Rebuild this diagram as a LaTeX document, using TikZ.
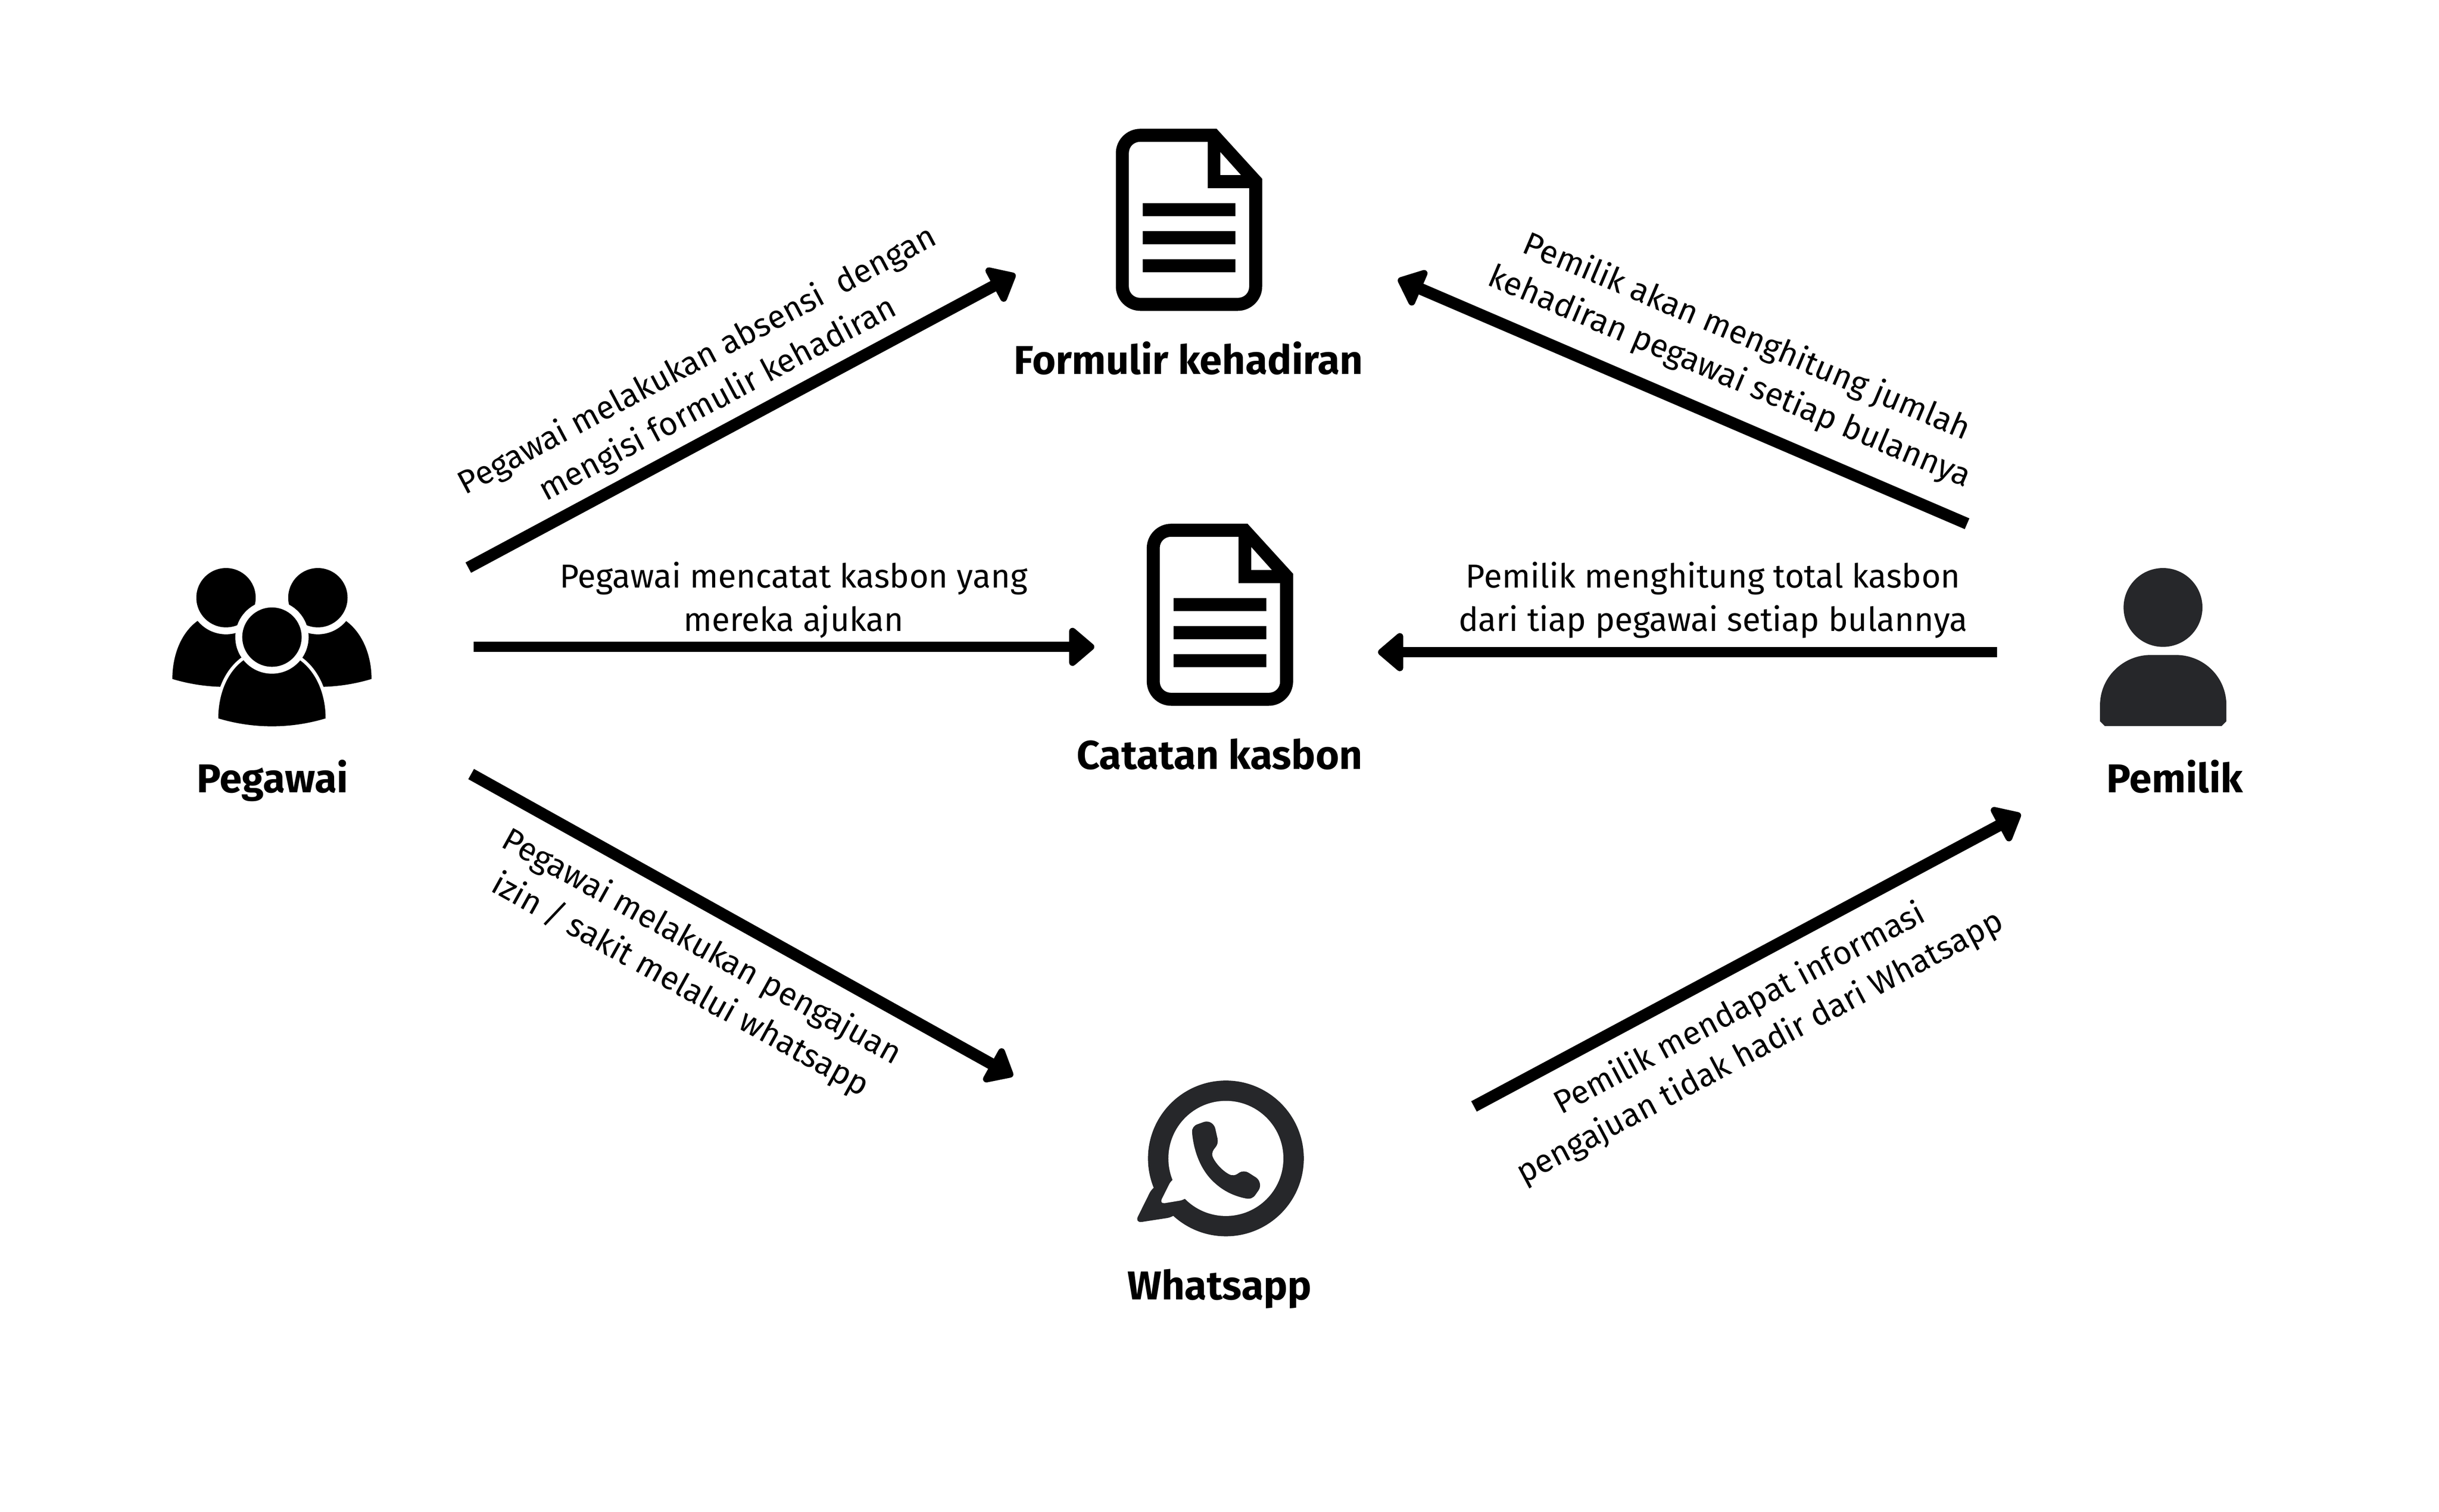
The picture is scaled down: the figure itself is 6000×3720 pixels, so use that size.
\documentclass[tikz,border=0pt]{standalone}
\usepackage{fontspec}
\setmainfont{Fira Sans}
\usetikzlibrary{arrows.meta}
\definecolor{icondark}{HTML}{26272A}
\tikzset{
  flow/.style={line width=8.2pt,line cap=butt,-{Triangle[length=19pt,width=31pt,line width=5pt,round]}},
  flowh/.style={line width=7.1pt,line cap=butt,-{Triangle[length=19pt,width=31pt,line width=5pt,round]}},
  lbl/.style={font=\fontsize{23.2}{30.4}\selectfont,align=center,inner sep=0pt,text=black},
  lblr/.style={font=\fontsize{22.7}{30.4}\selectfont,align=center,inner sep=0pt,text=black},
  title/.style={font=\fontsize{28.2}{32}\selectfont\bfseries,anchor=base,inner sep=0pt,text=black},
  docicon/.pic={
    \fill[black,even odd rule]
      (2745,377) .. controls (2745,344) and (2772,317) .. (2805,317) -- (2993,317) -- (3105,440) -- (3105,705)
      .. controls (3105,738) and (3078,765) .. (3045,765) -- (2805,765) .. controls (2772,765) and (2745,738) .. (2745,705) -- cycle
      (2777,377) .. controls (2777,361) and (2789,349) .. (2805,349) -- (2971,349) -- (2971,463) -- (3073,463) -- (3073,705)
      .. controls (3073,721) and (3061,733) .. (3045,733) -- (2805,733) .. controls (2789,733) and (2777,721) .. (2777,705) -- cycle
      (3002,374) -- (3002,431) -- (3053,431) -- cycle;
    \fill[black] (2811,500) rectangle (3039,532) (2811,569) rectangle (3039,601) (2811,638) rectangle (3039,670);
  }
}
\newcommand{\domeshape}{(537,1768) .. controls (537,1710) and (558,1655) .. (599,1625) -- (738,1625) .. controls (779,1655) and (801,1710) .. (801,1768) .. controls (715,1794) and (623,1794) .. (537,1768) -- cycle}
\begin{document}
\begin{tikzpicture}[x=0.01cm,y=-0.01cm]
\useasboundingbox (0,0) rectangle (6000,3720);
\fill[white] (0,0) rectangle (6000,3720);

% Pegawai icon
\foreach \dx/\hx in {-113/556,113/782}{
  \begin{scope}[shift={(\dx,-97)}]
    \fill[black] \domeshape;
  \end{scope}
  \fill[white] (\hx,1471) circle (90);
  \fill[black] (\hx,1471) circle (73);
}
\fill[white] (669,1568) circle (90);
\draw[white,line width=4.8pt,fill=white] \domeshape;
\fill[black] \domeshape;
\fill[white] (669,1568) circle (90);
\fill[black] (669,1568) circle (73);

% documents
\pic at (0,0) {docicon};
\pic at (76,972) {docicon};

% Whatsapp icon
\begin{scope}[shift={(2750,2630)},xscale=0.351,yscale=0.3333]
  \fill[icondark] (757,663) ellipse [x radius=546,y radius=575];
  \fill[icondark,rounded corners=5pt] (245,870) -- (118,1140) -- (395,1095) -- (757,663) -- cycle;
  \fill[white] (757,663) ellipse [x radius=403,y radius=425];
  \fill[white,rounded corners=4pt] (378,815) -- (290,1000) -- (472,968) -- (757,663) -- cycle;
  \fill[icondark] (520,470) .. controls (518,440) and (535,418) .. (560,410) -- (605,393)
    .. controls (640,383) and (672,405) .. (682,440) -- (698,515) .. controls (703,540) and (698,560) .. (688,575)
    -- (672,597) .. controls (660,615) and (657,640) .. (668,660) .. controls (690,705) and (730,750) .. (775,778)
    .. controls (800,793) and (825,790) .. (848,770) .. controls (870,755) and (895,755) .. (918,770) -- (970,805)
    .. controls (998,828) and (1005,870) .. (985,900) -- (965,930) .. controls (950,955) and (925,966) .. (895,958)
    .. controls (810,940) and (730,900) .. (660,825) .. controls (575,735) and (530,600) .. (520,470) -- cycle;
\end{scope}

% Pemilik icon
\fill[icondark] (5321,1495) circle (97);
\fill[icondark] (5166,1736) .. controls (5166,1665) and (5225,1612) .. (5290,1612) -- (5353,1612)
  .. controls (5420,1612) and (5477,1665) .. (5477,1736) -- (5477,1775) -- (5465,1787) -- (5178,1787) -- (5166,1775) -- cycle;

% titles
\node[title] (tpegawai) at (670,1950) {Pegawai};
\node[title] (tpemilik) at (5350,1950) {Pemilik};
\node[title] (tformulir) at (2924,921) {Formulir kehadiran};
\node[title] (tcatatan) at (3000,1893) {Catatan kasbon};
\node[title] (twa) at (3000,3198) {Whatsapp};

% connector ends
\coordinate (a1s) at (1152,1397); \coordinate (a1e) at (2498,675);
\coordinate (a2s) at (1165,1592); \coordinate (a2e) at (2692,1592);
\coordinate (a3s) at (1159,1905); \coordinate (a3e) at (2492,2648);
\coordinate (a4s) at (4839,1289); \coordinate (a4e) at (3439,687);
\coordinate (a5s) at (4913,1605); \coordinate (a5e) at (3390,1605);
\coordinate (a6s) at (3626,2723); \coordinate (a6e) at (4971,2003);

\draw[flow] (a1s) -- (a1e);
\draw[flowh] (a2s) -- (a2e);
\draw[flow] (a3s) -- (a3e);
\draw[flow] (a4s) -- (a4e);
\draw[flowh] (a5s) -- (a5e);
\draw[flow] (a6s) -- (a6e);

% labels
\node[lblr,rotate=28] (l1) at (1741,936) {Pegawai melakukan absensi\ \ dengan\\mengisi formulir kehadiran};
\node[lbl] (l2) at (1952,1477) {Pegawai mencatat kasbon yang\\mereka ajukan};
\node[lblr,rotate=-29] (l3) at (1699,2379) {Pegawai melakukan pengajuan\\izin / sakit melalui whatsapp};
\node[lblr,rotate=-23] (l4) at (4275,880) {Pemilik akan menghitung jumlah\\kehadiran pegawai setiap bulannya};
\node[lbl] (l5) at (4214,1477) {Pemilik menghitung total kasbon\\dari tiap pegawai setiap bulannya};
\node[lblr,rotate=28] (l6) at (4305,2532) {Pemilik mendapat informasi\\pengajuan tidak hadir dari Whatsapp};
\end{tikzpicture}
\end{document}
